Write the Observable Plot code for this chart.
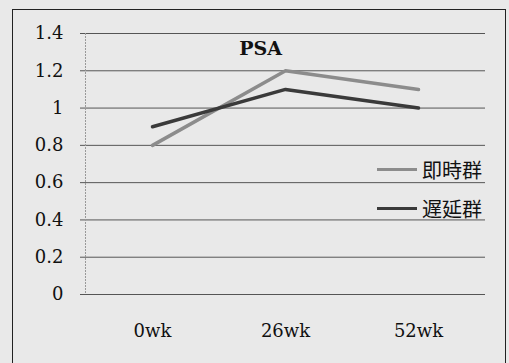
<!DOCTYPE html>
<html><head><meta charset="utf-8">
<script src="https://cdn.jsdelivr.net/npm/d3@7"></script>
<script src="https://cdn.jsdelivr.net/npm/@observablehq/plot@0.6"></script>
<style>
html,body{margin:0;padding:0;background:#e9e9e9;}
#wrap{position:relative;width:509px;height:363px;overflow:hidden;}
#border{position:absolute;left:12px;top:9px;width:494px;height:380px;border:1.5px solid #222;box-sizing:border-box;}
#chart{position:absolute;left:0;top:0;}
#chart svg text{font-family:"DejaVu Serif";}
.leg{position:absolute;left:377px;font-family:"Noto Sans CJK JP";font-size:20px;color:#111;display:flex;align-items:center;height:24px;}
.leg span.sw{display:inline-block;width:40px;height:3px;margin-right:5px;}
</style></head>
<body><div id="wrap"><div id="border"></div><div id="chart"></div>
<div class="leg" id="leg1" style="top:157px"><span class="sw"></span><span class="lb"></span></div>
<div class="leg" id="leg2" style="top:196px"><span class="sw"></span><span class="lb"></span></div>
</div>
<script>
const weeks = ["0wk", "26wk", "52wk"];
const seriesNames = ["即時群", "遅延群"];
const immediate = [0.8, 1.2, 1.1];
const delayed = [0.9, 1.1, 1.0];
const yTicks = [0, 0.2, 0.4, 0.6, 0.8, 1, 1.2, 1.4];
const colors = ["#8c8c8c", "#3a3a3a"];
const title = "PSA";

const data = [];
weeks.forEach((w, i) => {
  data.push({week: w, value: immediate[i], series: seriesNames[0]});
  data.push({week: w, value: delayed[i], series: seriesNames[1]});
});

const chart = Plot.plot({
  width: 509, height: 363,
  marginLeft: 85, marginRight: 24, marginTop: 33, marginBottom: 69,
  style: {background: "transparent", fontFamily: "DejaVu Serif", fontSize: "18px", color: "#111"},
  x: {type: "point", domain: weeks, padding: 0.5, label: null},
  y: {domain: [0, 1.4], label: null},
  color: {domain: seriesNames, range: colors},
  marks: [
    Plot.ruleY(yTicks, {stroke: "#555", strokeWidth: 1, insetLeft: -5}),
    Plot.frame({anchor: "left", stroke: "#999", strokeDasharray: "1,2"}),
    Plot.axisY(yTicks, {tickSize: 0, tickPadding: 22, tickFormat: d => String(d), fontSize: 18, fontFamily: "DejaVu Serif"}),
    Plot.axisX({tickSize: 0, tickPadding: 30, fontSize: 18, fontFamily: "DejaVu Serif"}),
    Plot.line(data, {x: "week", y: "value", z: "series", stroke: "series", strokeWidth: 3.5}),
    Plot.text([title], {frameAnchor: "top", dx: -25, dy: 8, fontWeight: "bold", fontSize: 19, fontFamily: "DejaVu Serif", text: d => d})
  ]
});
document.getElementById("chart").append(chart);
[["leg1", 0], ["leg2", 1]].forEach(([id, i]) => {
  const el = document.getElementById(id);
  el.querySelector(".sw").style.background = colors[i];
  el.querySelector(".lb").textContent = seriesNames[i];
});
</script></body></html>
